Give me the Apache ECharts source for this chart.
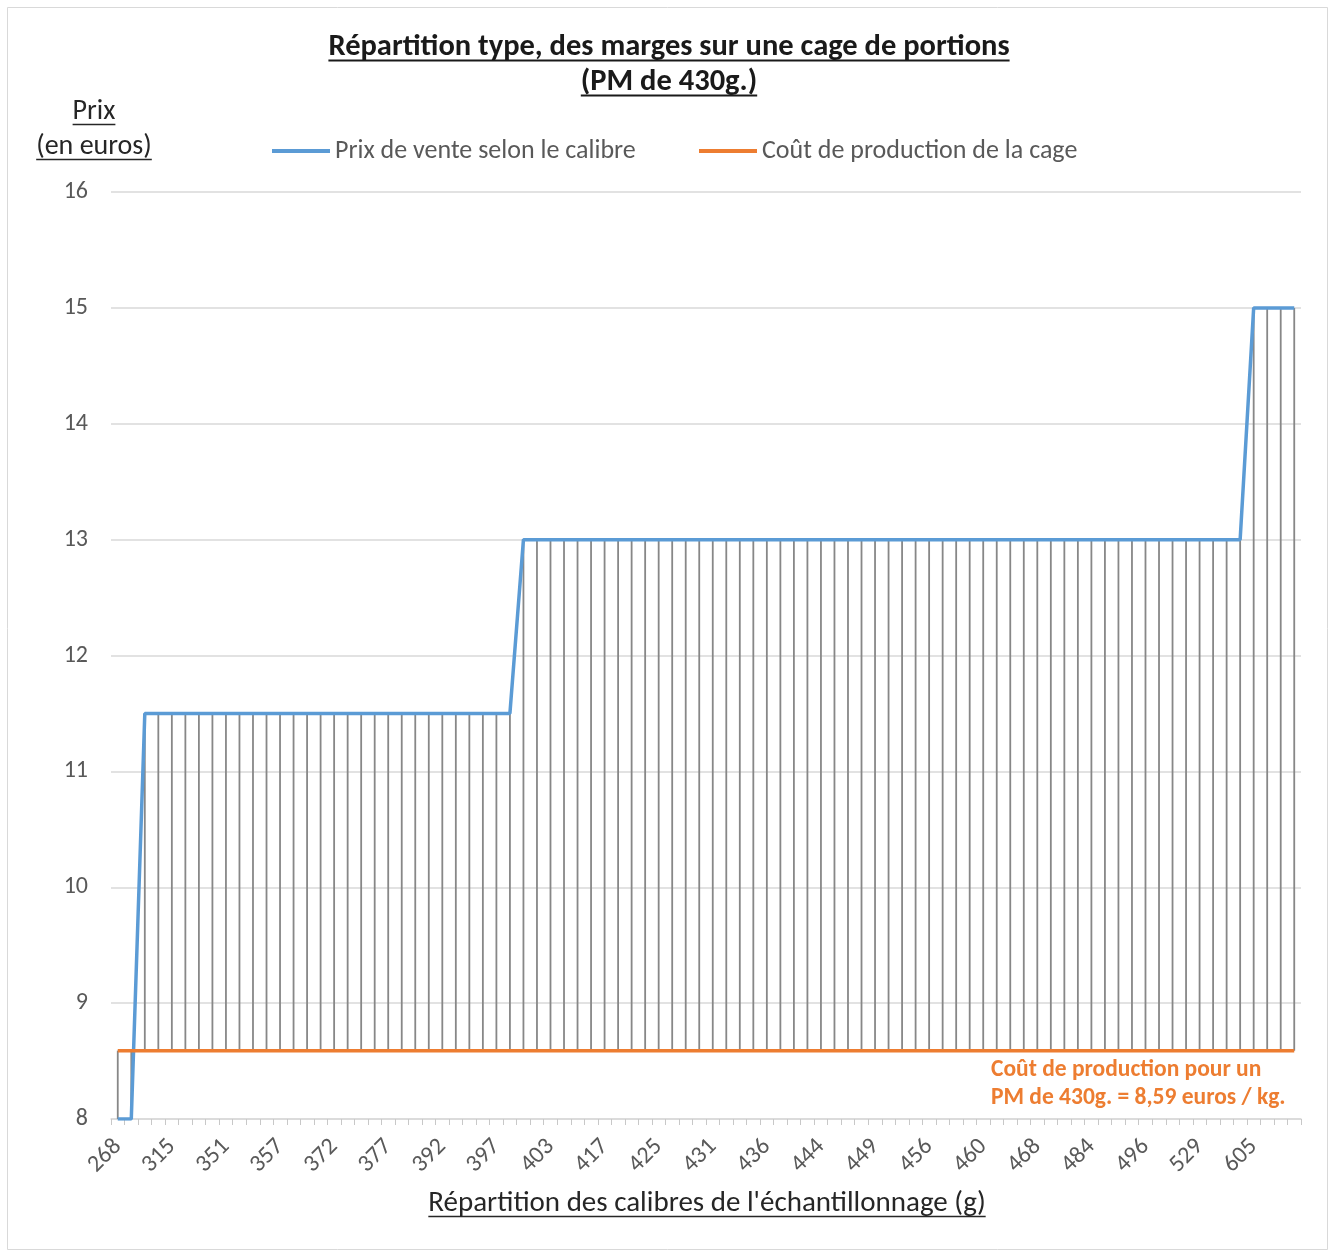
<!DOCTYPE html>
<html><head><meta charset="utf-8">
<script src="https://cdn.jsdelivr.net/npm/echarts@6/dist/echarts.min.js"></script>
<style>html,body{margin:0;padding:0;background:#fff}#c{width:1335px;height:1258px}</style>
</head><body><div id="c"></div>
<script>
const calibres = [268,287,302,310,315,322,334,345,351,352,354,356,357,361,366,370,372,373,375,376,377,381,386,390,392,393,395,396,397,398,400,402,403,406,410,414,417,419,421,423,425,427,428,430,431,432,434,435,436,438,441,443,444,445,447,448,449,451,453,455,456,457,458,459,460,462,465,467,468,472,477,481,484,487,490,493,496,503,511,520,529,545,562,584,605,618,632,650].map(String);
const prixVente = [8,8,11.5,11.5,11.5,11.5,11.5,11.5,11.5,11.5,11.5,11.5,11.5,11.5,11.5,11.5,11.5,11.5,11.5,11.5,11.5,11.5,11.5,11.5,11.5,11.5,11.5,11.5,11.5,11.5,13,13,13,13,13,13,13,13,13,13,13,13,13,13,13,13,13,13,13,13,13,13,13,13,13,13,13,13,13,13,13,13,13,13,13,13,13,13,13,13,13,13,13,13,13,13,13,13,13,13,13,13,13,13,15,15,15,15];
const coutProd = calibres.map(() => 8.59);
const yTicks = [8,9,10,11,12,13,14,15,16];
const seriesNames = ['Prix de vente selon le calibre', 'Coût de production de la cage'];

const FONT = "Carlito, 'Liberation Sans Narrow', 'Liberation Sans', sans-serif";
const chart = echarts.init(document.getElementById('c'));
const mctx = document.createElement('canvas').getContext('2d');
function uText(text, x, y, size, color, weight, align) {
  const font = (weight || 'normal') + ' ' + size + 'px ' + FONT;
  mctx.font = font;
  const w = mctx.measureText(text).width;
  let x0 = x;
  if (align === 'center') x0 = x - w / 2;
  else if (align === 'right') x0 = x - w;
  const uy = Math.round(y + size * 0.42) + 0.5;
  return [
    {type:'text', x:x, y:y, style:{text:text, font:font, fill:color, align:align||'left', verticalAlign:'middle'}},
    {type:'line', shape:{x1:x0, y1:uy, x2:x0 + w, y2:uy}, style:{stroke:color, lineWidth:weight === 'bold' ? 2 : 1.6}}
  ];
}
const graphics = [].concat(
  [{type:'rect', shape:{x:7.5, y:7.5, width:1320, height:1242}, style:{fill:'none', stroke:'#d9d9d9', lineWidth:1}, z:-1}],
  uText('Répartition type, des marges sur une cage de portions', 669, 47, 30.5, '#1a1a1a', 'bold', 'center'),
  uText('(PM de 430g.)', 669, 82, 30.5, '#1a1a1a', 'bold', 'center'),
  uText('Prix', 94, 112, 28, '#262626', 'normal', 'center'),
  uText('(en euros)', 94, 147, 28, '#262626', 'normal', 'center'),
  uText("Répartition des calibres de l'échantillonnage (g)", 707, 1204, 29, '#262626', 'normal', 'center'),
  [
    {type:'text', x:991, y:1070, style:{text:'Coût de production pour un', font:'bold 23.5px ' + FONT, fill:'#ED7D31', align:'left', verticalAlign:'middle'}},
    {type:'text', x:991, y:1098, style:{text:'PM de 430g. = 8,59 euros / kg.', font:'bold 23.5px ' + FONT, fill:'#ED7D31', align:'left', verticalAlign:'middle'}}
  ]
);

const legendBase = {icon:'rect', itemWidth:58, itemHeight:4, top:133,
  textStyle:{fontFamily:FONT, fontSize:26, color:'#595959'}};

chart.setOption({
  animation:false,
  backgroundColor:'#fff',
  grid:{left:111, right:34, top:192, bottom:139, containLabel:false},
  legend:[
    Object.assign({}, legendBase, {data:[seriesNames[0]], left:267}),
    Object.assign({}, legendBase, {data:[seriesNames[1]], left:694})
  ],
  xAxis:{
    type:'category', data:calibres, boundaryGap:true,
    axisLine:{lineStyle:{color:'#d9d9d9', width:1.5}},
    axisTick:{show:true, interval:0, length:6, lineStyle:{color:'#c8c8c8'}},
    axisLabel:{interval:3, rotate:45, fontFamily:FONT, fontSize:24, color:'#595959', margin:24},
    splitLine:{show:false}
  },
  yAxis:{
    type:'value', min:yTicks[0], max:yTicks[yTicks.length-1], interval:1,
    axisLine:{show:false}, axisTick:{show:false},
    axisLabel:{fontFamily:FONT, fontSize:24, color:'#595959', margin:23},
    splitLine:{lineStyle:{color:'#d9d9d9', width:1.5}}
  },
  series:[
    {
      type:'custom', name:'hl', z:1, silent:true,
      data: calibres.map((c,i) => [i, prixVente[i], coutProd[i]]),
      encode:{x:0, y:[1,2]},
      renderItem:function(params, api){
        const a = api.coord([api.value(0), api.value(1)]);
        const b = api.coord([api.value(0), api.value(2)]);
        return {type:'line', shape:{x1:a[0], y1:a[1], x2:b[0], y2:b[1]}, style:{stroke:'#878787', lineWidth:1.8}};
      }
    },
    {type:'line', name:seriesNames[0], data:prixVente, symbol:'none', z:3,
      lineStyle:{color:'#5B9BD5', width:3.5}, itemStyle:{color:'#5B9BD5'}},
    {type:'line', name:seriesNames[1], data:coutProd, symbol:'none', z:4,
      lineStyle:{color:'#ED7D31', width:3.5}, itemStyle:{color:'#ED7D31'}}
  ],
  graphic:graphics
});
</script>
</body></html>
